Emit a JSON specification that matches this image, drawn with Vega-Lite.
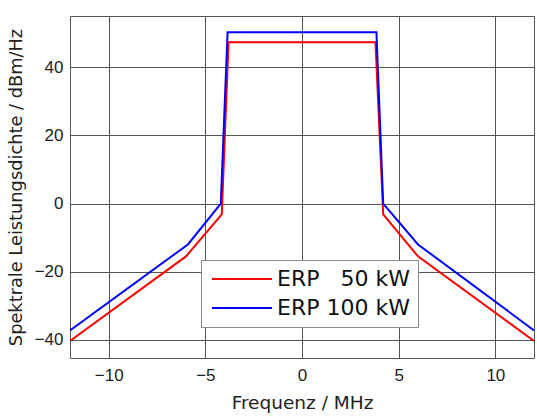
{
  "$schema": "https://vega.github.io/schema/vega-lite/v6.json",
  "autosize": {"type": "none"},
  "width": 464,
  "height": 342,
  "padding": {"left": 70, "top": 16, "right": 3, "bottom": 58},
  "background": "white",
  "config": {
    "view": {"stroke": "#555", "strokeWidth": 1},
    "font": "DejaVu Sans"
  },
  "data": {
    "values": [
      {"series": "ERP \u200750 kW", "f": -12, "p": -40.3},
      {"series": "ERP \u200750 kW", "f": -6, "p": -15.5},
      {"series": "ERP \u200750 kW", "f": -4.15, "p": -3.2},
      {"series": "ERP \u200750 kW", "f": -3.8, "p": 47.3},
      {"series": "ERP \u200750 kW", "f": 3.8, "p": 47.3},
      {"series": "ERP \u200750 kW", "f": 4.2, "p": -3.2},
      {"series": "ERP \u200750 kW", "f": 6, "p": -15.5},
      {"series": "ERP \u200750 kW", "f": 12, "p": -40.3},
      {"series": "ERP 100 kW", "f": -12, "p": -37.2},
      {"series": "ERP 100 kW", "f": -5.9, "p": -12},
      {"series": "ERP 100 kW", "f": -4.2, "p": 0},
      {"series": "ERP 100 kW", "f": -3.85, "p": 50.2},
      {"series": "ERP 100 kW", "f": 3.85, "p": 50.2},
      {"series": "ERP 100 kW", "f": 4.2, "p": 0},
      {"series": "ERP 100 kW", "f": 6, "p": -12},
      {"series": "ERP 100 kW", "f": 12, "p": -37.2}
    ]
  },
  "mark": {"type": "line", "strokeWidth": 2, "clip": true},
  "encoding": {
    "x": {
      "field": "f", "type": "quantitative",
      "scale": {"domain": [-12, 12], "nice": false, "zero": false},
      "axis": {
        "title": "Frequenz / MHz",
        "values": [-10, -5, 0, 5, 10],
        "ticks": false, "domain": false,
        "grid": true, "gridColor": "#555", "gridOpacity": 1, "gridWidth": 1,
        "labelFont": "Liberation Sans", "labelFontSize": 17, "labelColor": "#222",
        "labelPadding": 9,
        "titleFont": "DejaVu Sans", "titleFontSize": 18.5, "titleFontWeight": "normal", "titleColor": "#222",
        "titlePadding": 10
      }
    },
    "y": {
      "field": "p", "type": "quantitative",
      "scale": {"domain": [-45.3, 55], "nice": false, "zero": false},
      "axis": {
        "title": "Spektrale Leistungsdichte / dBm/Hz",
        "values": [-40, -20, 0, 20, 40],
        "ticks": false, "domain": false,
        "grid": true, "gridColor": "#555", "gridOpacity": 1, "gridWidth": 1,
        "labelFont": "Liberation Sans", "labelFontSize": 17, "labelColor": "#222",
        "labelPadding": 7,
        "titleFont": "DejaVu Sans", "titleFontSize": 17.8, "titleFontWeight": "normal", "titleColor": "#222",
        "titlePadding": 9
      }
    },
    "color": {
      "field": "series", "type": "nominal",
      "scale": {"domain": ["ERP \u200750 kW", "ERP 100 kW"], "range": ["#ff0000", "#0000ff"]},
      "legend": {
        "title": null,
        "orient": "none",
        "legendX": 131,
        "legendY": 244,
        "fillColor": "white",
        "strokeColor": "#888",
        "padding": 8,
        "symbolType": "M-3,0H3",
        "symbolSize": 400,
        "symbolStrokeWidth": 2,
        "symbolOffset": 22,
        "labelOffset": 24,
        "labelFont": "DejaVu Sans",
        "labelFontSize": 22,
        "labelColor": "#111",
        "rowPadding": 7
      }
    }
  }
}
